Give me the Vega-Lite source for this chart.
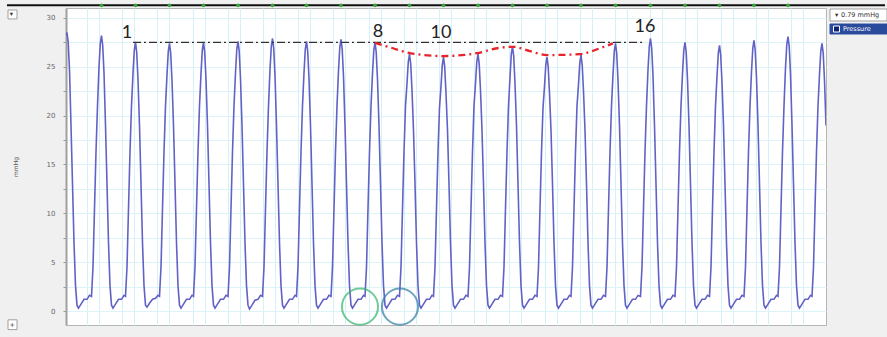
{
"$schema": "https://vega.github.io/schema/vega-lite/v6.json",
"width": 760, "height": 317,
"autosize": {"type": "none"},
"padding": {"left": 66, "top": 8, "right": 61, "bottom": 12},
"background": "#f0f0f0",
"config": {"view": {"stroke": "#b4b4b4", "fill": "#ffffff"}},
"datasets": {
"wave": [
{"x":0,"y":28.2},{"x":1,"y":28.5},{"x":2.2,"y":27.5},{"x":3.5,"y":24.7},{"x":5,"y":19},{"x":6.5,"y":13},{"x":8,"y":7},{"x":9.5,"y":2.6},{"x":11,"y":0.6},{"x":12.5,"y":0.3},{"x":15,"y":0.7},{"x":18,"y":1.2},{"x":21,"y":1.2},{"x":23.5,"y":1.6},
{"x":25.5,"y":1.5},{"x":27,"y":4.5},{"x":28.5,"y":10.5},{"x":30,"y":16.3},{"x":31.5,"y":21},{"x":33,"y":25},{"x":34.3,"y":27.4},{"x":35.5,"y":28.2},{"x":36.7,"y":27.2},{"x":38,"y":24.4},{"x":39.5,"y":19},{"x":41,"y":13},{"x":42.5,"y":7},{"x":44,"y":2.6},{"x":45.5,"y":0.6},{"x":47,"y":0.3},{"x":49.5,"y":0.7},{"x":52.5,"y":1.2},{"x":55.5,"y":1.2},{"x":58,"y":1.6},
{"x":59.5,"y":1.5},{"x":61,"y":4.5},{"x":62.5,"y":10.5},{"x":64,"y":16.3},{"x":65.5,"y":21},{"x":67,"y":24.3},{"x":68.3,"y":26.7},{"x":69.5,"y":27.5},{"x":70.7,"y":26.5},{"x":72,"y":23.7},{"x":73.5,"y":19},{"x":75,"y":13},{"x":76.5,"y":7},{"x":78,"y":2.6},{"x":79.5,"y":0.6},{"x":81,"y":0.4},{"x":83.5,"y":0.8},{"x":86.5,"y":1.2},{"x":89.5,"y":1.3},{"x":92,"y":1.6},
{"x":93.5,"y":1.5},{"x":95,"y":4.5},{"x":96.5,"y":10.5},{"x":98,"y":16.3},{"x":99.5,"y":21},{"x":101,"y":24.2},{"x":102.3,"y":26.6},{"x":103.5,"y":27.4},{"x":104.7,"y":26.4},{"x":106,"y":23.6},{"x":107.5,"y":19},{"x":109,"y":13},{"x":110.5,"y":7},{"x":112,"y":2.6},{"x":113.5,"y":0.6},{"x":115,"y":0.3},{"x":117.5,"y":0.7},{"x":120.5,"y":1.2},{"x":123.5,"y":1.2},{"x":126,"y":1.6},
{"x":127.5,"y":1.5},{"x":129,"y":4.5},{"x":130.5,"y":10.5},{"x":132,"y":16.3},{"x":133.5,"y":21},{"x":135,"y":24.3},{"x":136.3,"y":26.7},{"x":137.5,"y":27.5},{"x":138.7,"y":26.5},{"x":140,"y":23.7},{"x":141.5,"y":19},{"x":143,"y":13},{"x":144.5,"y":7},{"x":146,"y":2.6},{"x":147.5,"y":0.6},{"x":149,"y":0.3},{"x":151.5,"y":0.7},{"x":154.5,"y":1.2},{"x":157.5,"y":1.2},{"x":160,"y":1.6},
{"x":162,"y":1.5},{"x":163.5,"y":4.5},{"x":165,"y":10.5},{"x":166.5,"y":16.3},{"x":168,"y":21},{"x":169.5,"y":24.4},{"x":170.8,"y":26.8},{"x":172,"y":27.6},{"x":173.2,"y":26.6},{"x":174.5,"y":23.8},{"x":176,"y":19},{"x":177.5,"y":13},{"x":179,"y":7},{"x":180.5,"y":2.6},{"x":182,"y":0.6},{"x":183.5,"y":0.2},{"x":186,"y":0.6},{"x":189,"y":1.1},{"x":192,"y":1.2},{"x":194.5,"y":1.6},
{"x":196.5,"y":1.5},{"x":198,"y":4.5},{"x":199.5,"y":10.5},{"x":201,"y":16.3},{"x":202.5,"y":21},{"x":204,"y":24.7},{"x":205.3,"y":27.1},{"x":206.5,"y":27.9},{"x":207.7,"y":26.9},{"x":209,"y":24.1},{"x":210.5,"y":19},{"x":212,"y":13},{"x":213.5,"y":7},{"x":215,"y":2.6},{"x":216.5,"y":0.6},{"x":218,"y":0.3},{"x":220.5,"y":0.7},{"x":223.5,"y":1.2},{"x":226.5,"y":1.2},{"x":229,"y":1.6},
{"x":230.5,"y":1.5},{"x":232,"y":4.5},{"x":233.5,"y":10.5},{"x":235,"y":16.3},{"x":236.5,"y":21},{"x":238,"y":24.4},{"x":239.3,"y":26.8},{"x":240.5,"y":27.6},{"x":241.7,"y":26.6},{"x":243,"y":23.8},{"x":244.5,"y":19},{"x":246,"y":13},{"x":247.5,"y":7},{"x":249,"y":2.6},{"x":250.5,"y":0.6},{"x":252,"y":0.3},{"x":254.5,"y":0.7},{"x":257.5,"y":1.2},{"x":260.5,"y":1.2},{"x":263,"y":1.6},
{"x":265,"y":1.5},{"x":266.5,"y":4.5},{"x":268,"y":10.5},{"x":269.5,"y":16.3},{"x":271,"y":21},{"x":272.5,"y":24.6},{"x":273.8,"y":27},{"x":275,"y":27.8},{"x":276.2,"y":26.8},{"x":277.5,"y":24},{"x":279,"y":19},{"x":280.5,"y":13},{"x":282,"y":7},{"x":283.5,"y":2.6},{"x":285,"y":0.6},{"x":286.5,"y":0.3},{"x":289,"y":0.7},{"x":292,"y":1.2},{"x":295,"y":1.2},{"x":297.5,"y":1.6},
{"x":299,"y":1.5},{"x":300.5,"y":4.5},{"x":302,"y":10.5},{"x":303.5,"y":16.3},{"x":305,"y":21},{"x":306.5,"y":24.3},{"x":307.8,"y":26.7},{"x":309,"y":27.5},{"x":310.2,"y":26.5},{"x":311.5,"y":23.7},{"x":313,"y":19},{"x":314.5,"y":13},{"x":316,"y":7},{"x":317.5,"y":2.6},{"x":319,"y":0.6},{"x":320.5,"y":0.3},{"x":323,"y":0.7},{"x":326,"y":1.2},{"x":329,"y":1.2},{"x":331.5,"y":1.6},
{"x":333.5,"y":1.5},{"x":335,"y":4.5},{"x":336.5,"y":10.5},{"x":338,"y":16.3},{"x":339.5,"y":21},{"x":341,"y":23.3},{"x":342.3,"y":25.5},{"x":343.5,"y":26.3},{"x":344.7,"y":25.3},{"x":346,"y":22.6},{"x":347.5,"y":18.5},{"x":349,"y":13},{"x":350.5,"y":7},{"x":352,"y":2.6},{"x":353.5,"y":0.6},{"x":355,"y":0.3},{"x":357.5,"y":0.7},{"x":360.5,"y":1.2},{"x":363.5,"y":1.2},{"x":366,"y":1.6},
{"x":367.5,"y":1.5},{"x":369,"y":4.5},{"x":370.5,"y":10.5},{"x":372,"y":16.3},{"x":373.5,"y":20.8},{"x":375,"y":23},{"x":376.3,"y":25.2},{"x":377.5,"y":26},{"x":378.7,"y":25},{"x":380,"y":22.3},{"x":381.5,"y":18.5},{"x":383,"y":13},{"x":384.5,"y":7},{"x":386,"y":2.6},{"x":387.5,"y":0.6},{"x":389,"y":0.3},{"x":391.5,"y":0.7},{"x":394.5,"y":1.2},{"x":397.5,"y":1.2},{"x":400,"y":1.6},
{"x":402,"y":1.5},{"x":403.5,"y":4.5},{"x":405,"y":10.5},{"x":406.5,"y":16.3},{"x":408,"y":21},{"x":409.5,"y":23.3},{"x":410.8,"y":25.5},{"x":412,"y":26.3},{"x":413.2,"y":25.3},{"x":414.5,"y":22.6},{"x":416,"y":18.5},{"x":417.5,"y":13},{"x":419,"y":7},{"x":420.5,"y":2.6},{"x":422,"y":0.6},{"x":423.5,"y":0.3},{"x":426,"y":0.7},{"x":429,"y":1.2},{"x":432,"y":1.2},{"x":434.5,"y":1.6},
{"x":436.5,"y":1.5},{"x":438,"y":4.5},{"x":439.5,"y":10.5},{"x":441,"y":16.3},{"x":442.5,"y":21},{"x":444,"y":23.9},{"x":445.3,"y":26.3},{"x":446.5,"y":27.1},{"x":447.7,"y":26.1},{"x":449,"y":23.3},{"x":450.5,"y":19},{"x":452,"y":13},{"x":453.5,"y":7},{"x":455,"y":2.6},{"x":456.5,"y":0.6},{"x":458,"y":0.3},{"x":460.5,"y":0.7},{"x":463.5,"y":1.2},{"x":466.5,"y":1.2},{"x":469,"y":1.6},
{"x":471,"y":1.5},{"x":472.5,"y":4.5},{"x":474,"y":10.5},{"x":475.5,"y":16.3},{"x":477,"y":20.8},{"x":478.5,"y":23},{"x":479.8,"y":25.2},{"x":481,"y":26},{"x":482.2,"y":25},{"x":483.5,"y":22.3},{"x":485,"y":18.5},{"x":486.5,"y":13},{"x":488,"y":7},{"x":489.5,"y":2.6},{"x":491,"y":0.6},{"x":492.5,"y":0.3},{"x":495,"y":0.7},{"x":498,"y":1.2},{"x":501,"y":1.2},{"x":503.5,"y":1.6},
{"x":505,"y":1.5},{"x":506.5,"y":4.5},{"x":508,"y":10.5},{"x":509.5,"y":16.3},{"x":511,"y":21},{"x":512.5,"y":23.2},{"x":513.8,"y":25.4},{"x":515,"y":26.2},{"x":516.2,"y":25.2},{"x":517.5,"y":22.5},{"x":519,"y":18.5},{"x":520.5,"y":13},{"x":522,"y":7},{"x":523.5,"y":2.6},{"x":525,"y":0.6},{"x":526.5,"y":0.3},{"x":529,"y":0.7},{"x":532,"y":1.2},{"x":535,"y":1.2},{"x":537.5,"y":1.6},
{"x":539.5,"y":1.5},{"x":541,"y":4.5},{"x":542.5,"y":10.5},{"x":544,"y":16.3},{"x":545.5,"y":21},{"x":547,"y":24.2},{"x":548.3,"y":26.6},{"x":549.5,"y":27.4},{"x":550.7,"y":26.4},{"x":552,"y":23.6},{"x":553.5,"y":19},{"x":555,"y":13},{"x":556.5,"y":7},{"x":558,"y":2.6},{"x":559.5,"y":0.6},{"x":561,"y":0.3},{"x":563.5,"y":0.7},{"x":566.5,"y":1.2},{"x":569.5,"y":1.2},{"x":572,"y":1.6},
{"x":574.5,"y":1.5},{"x":576,"y":4.5},{"x":577.5,"y":10.5},{"x":579,"y":16.3},{"x":580.5,"y":21},{"x":582,"y":24.7},{"x":583.3,"y":27.1},{"x":584.5,"y":27.9},{"x":585.7,"y":26.9},{"x":587,"y":24.1},{"x":588.5,"y":19},{"x":590,"y":13},{"x":591.5,"y":7},{"x":593,"y":2.6},{"x":594.5,"y":0.6},{"x":596,"y":0.3},{"x":598.5,"y":0.7},{"x":601.5,"y":1.2},{"x":604.5,"y":1.2},{"x":607,"y":1.6},
{"x":609,"y":1.5},{"x":610.5,"y":4.5},{"x":612,"y":10.5},{"x":613.5,"y":16.3},{"x":615,"y":21},{"x":616.5,"y":24.3},{"x":617.8,"y":26.7},{"x":619,"y":27.5},{"x":620.2,"y":26.5},{"x":621.5,"y":23.7},{"x":623,"y":19},{"x":624.5,"y":13},{"x":626,"y":7},{"x":627.5,"y":2.6},{"x":629,"y":0.6},{"x":630.5,"y":0.3},{"x":633,"y":0.7},{"x":636,"y":1.2},{"x":639,"y":1.2},{"x":641.5,"y":1.6},
{"x":643.5,"y":1.5},{"x":645,"y":4.5},{"x":646.5,"y":10.5},{"x":648,"y":16.3},{"x":649.5,"y":21},{"x":651,"y":24},{"x":652.3,"y":26.4},{"x":653.5,"y":27.2},{"x":654.7,"y":26.2},{"x":656,"y":23.4},{"x":657.5,"y":19},{"x":659,"y":13},{"x":660.5,"y":7},{"x":662,"y":2.6},{"x":663.5,"y":0.6},{"x":665,"y":0.3},{"x":667.5,"y":0.7},{"x":670.5,"y":1.2},{"x":673.5,"y":1.2},{"x":676,"y":1.6},
{"x":678,"y":1.5},{"x":679.5,"y":4.5},{"x":681,"y":10.5},{"x":682.5,"y":16.3},{"x":684,"y":21},{"x":685.5,"y":24.5},{"x":686.8,"y":26.9},{"x":688,"y":27.7},{"x":689.2,"y":26.7},{"x":690.5,"y":23.9},{"x":692,"y":19},{"x":693.5,"y":13},{"x":695,"y":7},{"x":696.5,"y":2.6},{"x":698,"y":0.6},{"x":699.5,"y":0.3},{"x":702,"y":0.7},{"x":705,"y":1.2},{"x":708,"y":1.2},{"x":710.5,"y":1.6},
{"x":712,"y":1.5},{"x":713.5,"y":4.5},{"x":715,"y":10.5},{"x":716.5,"y":16.3},{"x":718,"y":21},{"x":719.5,"y":24.9},{"x":720.8,"y":27.3},{"x":722,"y":28.1},{"x":723.2,"y":27.1},{"x":724.5,"y":24.3},{"x":726,"y":19},{"x":727.5,"y":13},{"x":729,"y":7},{"x":730.5,"y":2.6},{"x":732,"y":0.6},{"x":733.5,"y":0.3},{"x":736,"y":0.7},{"x":739,"y":1.2},{"x":742,"y":1.2},{"x":744.5,"y":1.6},
{"x":746,"y":1.5},{"x":747.5,"y":4.5},{"x":749,"y":10.5},{"x":750.5,"y":16.3},{"x":752,"y":21},{"x":753.5,"y":24.2},{"x":754.8,"y":26.6},{"x":756,"y":27.4},{"x":757.2,"y":26.4},{"x":758.5,"y":23.6},{"x":760,"y":19}
],
"ref": [{"x": 67, "x2": 579, "y": 27.5}],
"trend": [
{"x":309,"y":27.45},{"x":327,"y":26.9},{"x":344,"y":26.4},{"x":377,"y":26.1},{"x":411,"y":26.4},{"x":431,"y":26.9},{"x":447,"y":27.05},{"x":464,"y":26.6},{"x":481,"y":26.2},{"x":514,"y":26.3},{"x":534,"y":26.9},{"x":547,"y":27.4}
],
"labels": [
{"x":61,"y":28.5,"t":"1"},{"x":312,"y":28.6,"t":"8"},{"x":375,"y":28.5,"t":"10"},{"x":579,"y":29.1,"t":"16"}
],
"rings": [
{"x":294,"y":0.45,"c":"green"},{"x":334,"y":0.45,"c":"teal"}
],
"topbar": [{"x": -59, "x2": 819, "y": 31.3}],
"events": [
{"x":35.5,"y":31.3},{"x":69.5,"y":31.3},{"x":103.5,"y":31.3},{"x":137.5,"y":31.3},{"x":172,"y":31.3},{"x":206.5,"y":31.3},{"x":240.5,"y":31.3},{"x":275,"y":31.3},{"x":309,"y":31.3},{"x":343.5,"y":31.3},{"x":377.5,"y":31.3},{"x":412,"y":31.3},{"x":446.5,"y":31.3},{"x":481,"y":31.3},{"x":515,"y":31.3},{"x":549.5,"y":31.3},{"x":584.5,"y":31.3},{"x":619,"y":31.3},{"x":653.5,"y":31.3},{"x":688,"y":31.3},{"x":722,"y":31.3}
],
"panel": [
{"x":764,"x2":821,"y":30.92,"y2":29.69,"k":"box"},
{"x":764,"x2":821,"y":29.38,"y2":28.36,"k":"sel"},
{"x":-58,"x2":-49,"y":30.82,"y2":29.9,"k":"box"},
{"x":-58,"x2":-49,"y":-0.9,"y2":-1.9,"k":"box"}
],
"darktext": [
{"x":769,"y":30.3,"t":"▾"},
{"x":775,"y":30.3,"t":"0.79 mmHg"},
{"x":-56.3,"y":30.36,"t":"▾"},
{"x":-56.5,"y":-1.4,"t":"+"}
],
"whitetext": [
{"x":777,"y":28.87,"t":"Pressure"}
],
"swatch": [{"x":770.5,"y":28.87}]
},
"encoding": {
"x": {"field": "x", "type": "quantitative", "scale": {"domain": [0, 760], "nice": false, "zero": false},
 "axis": {"title": null, "labels": false, "ticks": false, "domain": false, "grid": true, "gridColor": "#d3f1f6", "gridWidth": 1,
 "values": [21,33,56.2,68.2,91.4,103.4,126.6,138.6,161.8,173.8,197,209,232.2,244.2,267.4,279.4,302.6,314.6,337.8,349.8,373,385,408.2,420.2,443.4,455.4,478.6,490.6,513.8,525.8,549,561,584.2,596.2,619.4,631.4,654.6,666.6,689.8,701.8,725,737]}},
"y": {"field": "y", "type": "quantitative", "scale": {"domain": [-1.43, 31.02], "nice": false, "zero": false},
 "axis": {"title": "mmHg", "titleFontSize": 6, "titleFont": "DejaVu Sans", "titleFontWeight": "normal", "titleColor": "#555555", "titlePadding": 28,
 "values": [0,2.5,5,7.5,10,12.5,15,17.5,20,22.5,25,27.5,30],
 "labelExpr": "datum.value % 5 === 0 ? datum.label : ''",
 "labelFont": "DejaVu Sans", "labelFontSize": 7, "labelColor": "#666666", "labelPadding": 8,
 "tickSize": 3, "tickColor": "#999999", "domainColor": "#a0a0a0", "domainWidth": 2,
 "grid": true, "gridColor": "#dcf3f7", "gridWidth": 1}}
},
"layer": [
{"data": {"name": "wave"}, "mark": {"type": "line", "color": "#6262c6", "strokeWidth": 1.6, "clip": true}},
{"data": {"name": "ref"}, "mark": {"type": "rule", "color": "#333333", "strokeWidth": 1.3, "strokeDash": [8, 3, 2, 3]}, "encoding": {"x2": {"field": "x2"}}},
{"data": {"name": "trend"}, "mark": {"type": "line", "color": "#e8232a", "strokeWidth": 2.3, "strokeDash": [7, 4, 2, 4], "interpolate": "monotone"}},
{"data": {"name": "labels"}, "mark": {"type": "text", "font": "Lato", "fontSize": 18, "color": "#222222", "baseline": "middle", "align": "center"}, "encoding": {"text": {"field": "t"}}},
{"data": {"name": "rings"}, "mark": {"type": "point", "shape": "circle", "filled": false, "size": 1300, "strokeWidth": 2}, "encoding": {"color": {"field": "c", "type": "nominal", "scale": {"domain": ["green", "teal"], "range": ["#36b56e", "#2f7ea6"]}, "legend": null}}},
{"data": {"name": "topbar"}, "mark": {"type": "rule", "color": "#111111", "strokeWidth": 2, "clip": false}, "encoding": {"x2": {"field": "x2"}}},
{"data": {"name": "events"}, "mark": {"type": "point", "shape": "circle", "filled": true, "size": 14, "color": "#3aa63a", "opacity": 1, "clip": false}},
{"data": {"name": "panel"}, "mark": {"type": "rect", "clip": false}, "encoding": {"x2": {"field": "x2"}, "y2": {"field": "y2"}, "fill": {"field": "k", "type": "nominal", "scale": {"domain": ["box", "sel"], "range": ["#ffffff", "#2a4a9c"]}, "legend": null}, "stroke": {"field": "k", "type": "nominal", "scale": {"domain": ["box", "sel"], "range": ["#a0a0a0", "#2a4a9c"]}, "legend": null}}},
{"data": {"name": "swatch"}, "mark": {"type": "point", "shape": "square", "filled": true, "size": 36, "color": "#0d1f7a", "stroke": "#ffffff", "strokeWidth": 1, "opacity": 1, "clip": false}},
{"data": {"name": "darktext"}, "mark": {"type": "text", "font": "DejaVu Sans", "fontSize": 6.5, "align": "left", "baseline": "middle", "color": "#333333", "clip": false}, "encoding": {"text": {"field": "t"}}},
{"data": {"name": "whitetext"}, "mark": {"type": "text", "font": "DejaVu Sans", "fontSize": 6.5, "align": "left", "baseline": "middle", "color": "#ffffff", "clip": false}, "encoding": {"text": {"field": "t"}}}
]
}
